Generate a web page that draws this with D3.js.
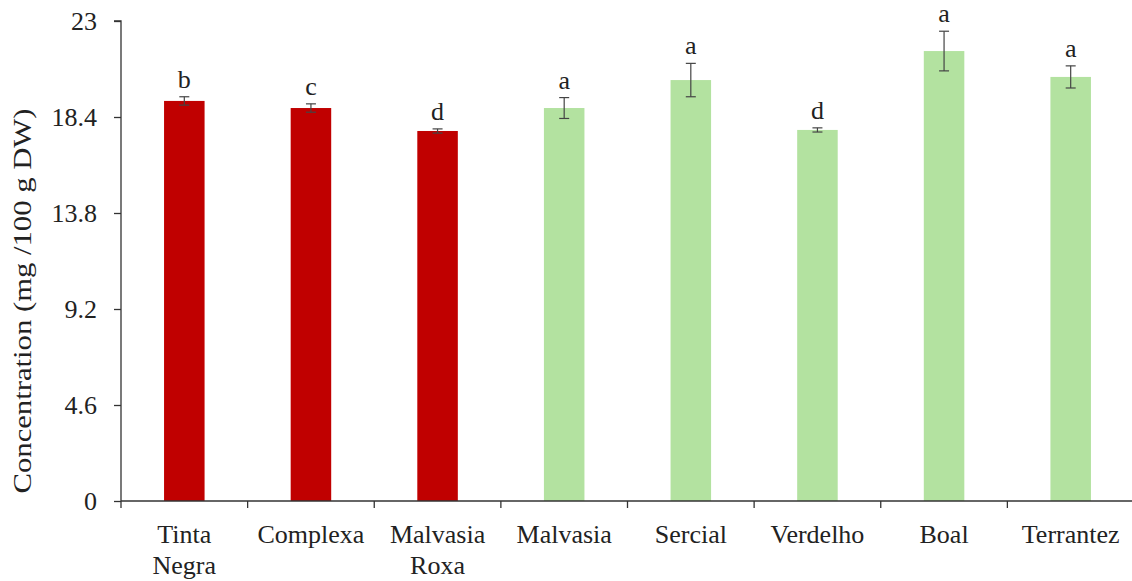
<!DOCTYPE html>
<html>
<head>
<meta charset="utf-8">
<script src="https://cdn.jsdelivr.net/npm/d3@7"></script>
<style>
  body { margin: 0; background: #fff; }
  text { font-family: "Liberation Serif", "Times New Roman", serif; fill: #222; }
</style>
</head>
<body>
<div id="chart"></div>
<script>
// cultivars, mean, standard deviation, significance letter
var cultivars = ["Tinta Negra", "Complexa", "Malvasia Roxa", "Malvasia", "Sercial", "Verdelho", "Boal", "Terrantez"];
var values = [19.17, 18.83, 17.73, 18.83, 20.17, 17.78, 21.56, 20.32];
var errors = [0.2, 0.2, 0.1, 0.5, 0.8, 0.1, 0.95, 0.53];
var letters = ["b", "c", "d", "a", "a", "d", "a", "a"];
var redGroup = ["Tinta Negra", "Complexa", "Malvasia Roxa"];
var yTicks = [0, 4.6, 9.2, 13.8, 18.4, 23];

var width = 1132, height = 581;
var margin = {top: 21, right: -2, bottom: 80, left: 121};

var svg = d3.select("#chart").append("svg")
    .attr("width", width)
    .attr("height", height);

var x = d3.scaleBand()
    .domain(cultivars)
    .range([margin.left, width - margin.right])
    .paddingInner(0.68)
    .paddingOuter(0.34);

var y = d3.scaleLinear()
    .domain([0, 23])
    .range([height - margin.bottom, margin.top]);

var data = cultivars.map((c, i) => ({name: c, value: values[i], err: errors[i], letter: letters[i]}));

// bars
svg.append("g")
    .selectAll("rect")
    .data(data)
    .enter().append("rect")
    .attr("x", d => x(d.name))
    .attr("y", d => y(d.value))
    .attr("width", x.bandwidth())
    .attr("height", d => y(0) - y(d.value))
    .attr("fill", d => redGroup.includes(d.name) ? "#c00000" : "#b3e2a0");

// error bars
var eb = svg.append("g")
    .attr("stroke", "#444")
    .attr("stroke-width", 1.2);
data.forEach(d => {
    var cx = x(d.name) + x.bandwidth() / 2;
    eb.append("line").attr("x1", cx).attr("x2", cx)
        .attr("y1", y(d.value + d.err)).attr("y2", y(d.value - d.err));
    eb.append("line").attr("x1", cx - 5).attr("x2", cx + 5)
        .attr("y1", y(d.value + d.err)).attr("y2", y(d.value + d.err));
    eb.append("line").attr("x1", cx - 5).attr("x2", cx + 5)
        .attr("y1", y(d.value - d.err)).attr("y2", y(d.value - d.err));
});

// significance letters
svg.append("g")
    .selectAll("text")
    .data(data)
    .enter().append("text")
    .attr("x", d => x(d.name) + x.bandwidth() / 2)
    .attr("y", d => y(d.value + d.err) - 9)
    .attr("text-anchor", "middle")
    .style("font-size", "26px")
    .text(d => d.letter);

// y axis
var yAxis = svg.append("g")
    .attr("transform", `translate(${margin.left},0)`)
    .call(d3.axisLeft(y).tickValues(yTicks).tickSize(7).tickPadding(17)
        .tickFormat(d => d === 0 ? "0" : d3.format(".1f")(d).replace(/\.0$/, "")));
yAxis.select(".domain").attr("stroke", "#333").attr("stroke-width", 1.3)
    .attr("d", `M-7,${y(23)}H0V${y(0)}`);
yAxis.selectAll(".tick line").attr("stroke", "#333").attr("stroke-width", 1.3);
yAxis.selectAll(".tick text").style("font-size", "26px").style("font-family", "Liberation Serif").attr("fill", "#222");

// x axis with ticks between categories
var xAxisY = y(0);
var xg = svg.append("g");
xg.append("line")
    .attr("x1", margin.left).attr("x2", width)
    .attr("y1", xAxisY).attr("y2", xAxisY)
    .attr("stroke", "#333").attr("stroke-width", 1.3);
var step = x.step();
d3.range(cultivars.length + 1).forEach(i => {
    var tx = x(cultivars[0]) - x.paddingOuter() * step + i * step;
    xg.append("line")
        .attr("x1", tx).attr("x2", tx)
        .attr("y1", xAxisY).attr("y2", xAxisY + 7)
        .attr("stroke", "#333").attr("stroke-width", 1.3);
});

// category labels (wrap two-word names where the original does)
var labelLines = {"Tinta Negra": ["Tinta", "Negra"], "Malvasia Roxa": ["Malvasia", "Roxa"]};
xg.selectAll("text.cat")
    .data(cultivars)
    .enter().append("text")
    .attr("class", "cat")
    .attr("text-anchor", "middle")
    .style("font-size", "26px")
    .each(function (c) {
        var lines = labelLines[c] || [c];
        var t = d3.select(this);
        lines.forEach((l, i) => {
            t.append("tspan")
                .attr("x", x(c) + x.bandwidth() / 2)
                .attr("y", xAxisY + 42 + i * 31)
                .text(l);
        });
    });

// y axis title
svg.append("text")
    .attr("transform", `translate(31,${(y(0) + y(23)) / 2 + 40}) rotate(-90)`)
    .attr("text-anchor", "middle")
    .attr("textLength", 385)
    .attr("lengthAdjust", "spacingAndGlyphs")
    .style("font-size", "25px")
    .text("Concentration (mg /100 g  DW)");
</script>
</body>
</html>
